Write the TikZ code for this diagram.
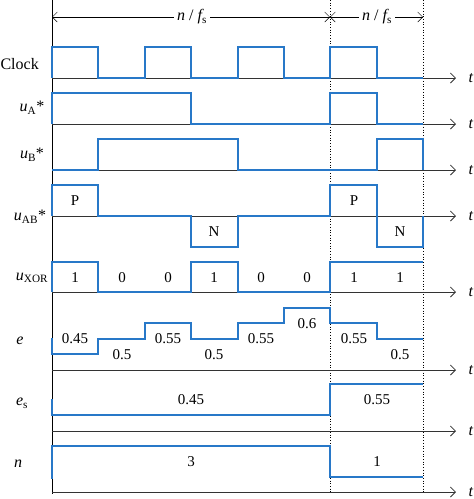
\documentclass[tikz,border=0pt]{standalone}
\usepackage{fontspec}
\setmainfont{Liberation Serif}
\usetikzlibrary{arrows.meta}
\definecolor{wave}{RGB}{40,120,200}
\tikzset{sig/.style={draw=wave,line width=1.2pt},
	axis/.style={draw=black!80,line width=0.8pt,-{Straight Barb[length=5pt]}},
	lbl/.style={font=\fontsize{16}{18}\selectfont},
	val/.style={font=\fontsize{15}{17}\selectfont}}
\begin{document}
\begin{tikzpicture}[x=1pt,y=-1pt]
	\useasboundingbox (0,0) rectangle (474,499);
	% vertical lines
	\draw[line width=0.8pt] (52,0) -- (52,494);
	\draw[dotted,line width=0.7pt] (330,0) -- (330,494);
	\draw[dotted,line width=0.7pt] (423,0) -- (423,494);
	% time axes
	\foreach \y/\name in {78/clk,124/ua,170/ub,216/uab,292/xor,370/e,431/es,492/n}{
		\coordinate (\name0) at (52,\y);
		\coordinate (\name1) at (456,\y);
		\draw[axis] (\name0) -- (\name1);
		\node[lbl,font=\itshape\fontsize{16}{18}\selectfont,anchor=west] (t\name) at (465,\y) {t};
	}
	% period markers
	\node[lbl] (p1) at (192,17) {\itshape n \upshape/ \itshape f\upshape\textsubscript{s}};
	\node[lbl] (p2) at (377,17) {\itshape n \upshape/ \itshape f\upshape\textsubscript{s}};
	\draw[-{Straight Barb[length=5pt]}] (p1.west) -- (52,17);
	\draw[-{Straight Barb[length=5pt]}] (p1.east) -- (330,17);
	\draw[-{Straight Barb[length=5pt]}] (p2.west) -- (330,17);
	\draw[-{Straight Barb[length=5pt]}] (p2.east) -- (423,17);
	% signal names
	\node[lbl,anchor=west] (nclk) at (-3,64) {Clock};
	\node[lbl] (nua) at (32,108) {\itshape u\textsubscript{\upshape A}\upshape*};
	\node[lbl] (nub) at (32,155) {\itshape u\textsubscript{\upshape B}\upshape*};
	\node[lbl] (nuab) at (30,217) {\itshape u\textsubscript{\upshape AB}\upshape*};
	\node[lbl] (nxor) at (32,278) {\itshape u\textsubscript{\upshape XOR}};
	\node[lbl] (ne) at (20,341) {\itshape e};
	\node[lbl] (nes) at (22,403) {\itshape e\textsubscript{\upshape s}};
	\node[lbl] (nn) at (18,464) {\itshape n};
	% waveforms
	\draw[sig] (52,78) -- (52,47) -- (98,47) -- (98,78) -- (145,78) -- (145,47) -- (191,47) -- (191,78)
		-- (238,78) -- (238,47) -- (284,47) -- (284,78) -- (330,78) -- (330,47) -- (377,47) -- (377,78) -- (423,78);
	\draw[sig] (52,124) -- (52,93) -- (191,93) -- (191,124) -- (330,124) -- (330,93) -- (377,93) -- (377,124) -- (423,124);
	\draw[sig] (52,170) -- (98,170) -- (98,139) -- (238,139) -- (238,170) -- (377,170) -- (377,139) -- (423,139) -- (423,170);
	\draw[sig] (52,216) -- (52,185) -- (98,185) -- (98,216) -- (191,216) -- (191,247) -- (238,247) -- (238,216)
		-- (330,216) -- (330,185) -- (377,185) -- (377,247) -- (423,247) -- (423,216);
	\draw[sig] (52,292) -- (52,262) -- (98,262) -- (98,292) -- (191,292) -- (191,262) -- (238,262) -- (238,292)
		-- (330,292) -- (330,262) -- (423,262);
	\draw[sig] (52,338) -- (52,354) -- (98,354) -- (98,339) -- (145,339) -- (145,323) -- (191,323) -- (191,339)
		-- (238,339) -- (238,323) -- (284,323) -- (284,308) -- (330,308) -- (330,323) -- (377,323) -- (377,339) -- (423,339);
	\draw[sig] (52,399) -- (52,415) -- (330,415) -- (330,384) -- (423,384);
	\draw[sig] (52,479) -- (52,446) -- (330,446) -- (330,477) -- (423,477);
	% values
	\node[val] (vp1) at (75,201) {P};
	\node[val] (vp2) at (354,201) {P};
	\node[val] (vn1) at (214,232) {N};
	\node[val] (vn2) at (400,232) {N};
	\foreach \x/\v in {75/1,122/0,168/0,214/1,261/0,307/0,354/1,400/1}
		\node[val] (x\x) at (\x,278) {\v};
	\foreach \x/\y/\v in {75/339/0.45,122/355/0.5,168/339/0.55,214/355/0.5,261/339/0.55,307/324/0.6,354/339/0.55,400/355/0.5}
		\node[val] (e\x) at (\x,\y) {\v};
	\node[val] (es1) at (191,400) {0.45};
	\node[val] (es2) at (377,400) {0.55};
	\node[val] (n1) at (191,462) {3};
	\node[val] (n2) at (377,462) {1};
\end{tikzpicture}
\end{document}
